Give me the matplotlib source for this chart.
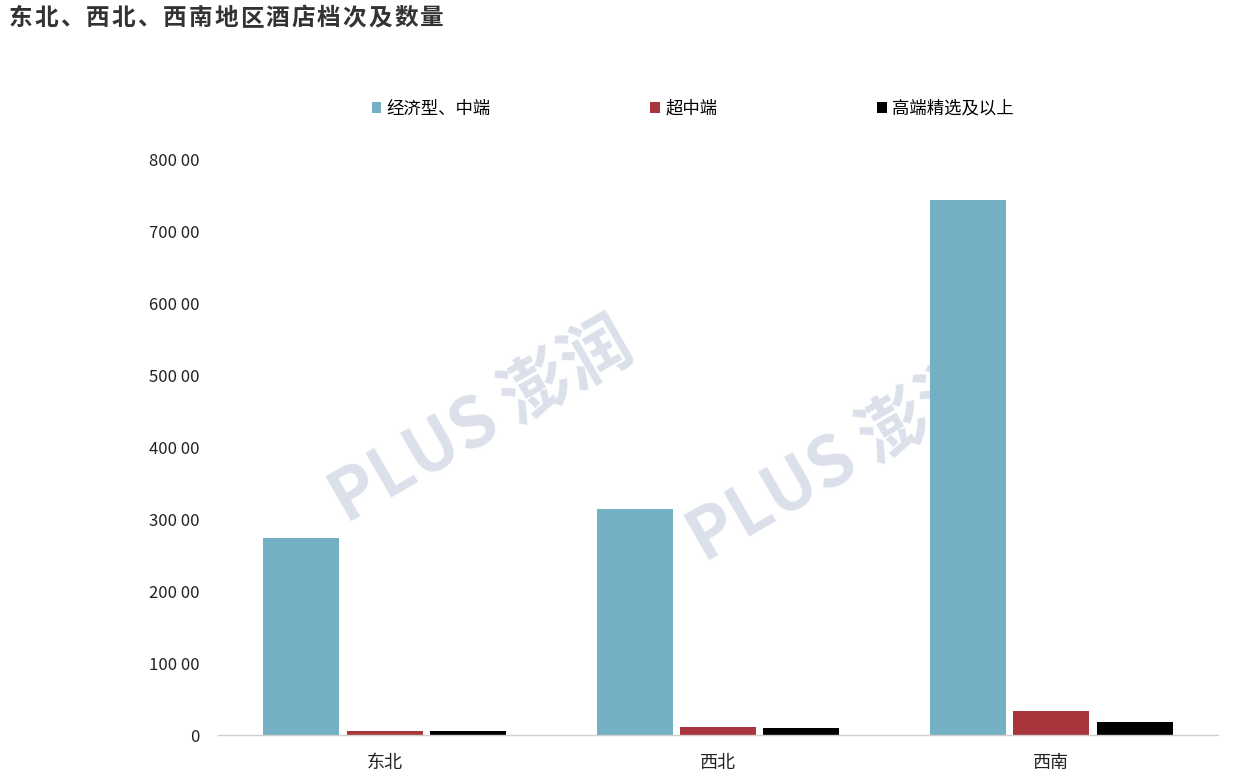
import matplotlib
matplotlib.use("Agg")
import matplotlib.pyplot as plt
import numpy as np

plt.rcParams["font.family"] = ["Noto Sans CJK SC", "DejaVu Sans"]

title = "东北、西北、西南地区酒店档次及数量"
regions = ["东北", "西北", "西南"]
series_names = ["经济型、中端", "超中端", "高端精选及以上"]
economy_mid = [27400, 31400, 74500]
upper_mid = [550, 1070, 3300]
upscale = [520, 930, 1770]
colors = ["#73B0C4", "#A8363C", "#000000"]
y_ticks = [0, 10000, 20000, 30000, 40000, 50000, 60000, 70000, 80000]
y_tick_labels = ["0", "100 00", "200 00", "300 00", "400 00", "500 00", "600 00", "700 00", "800 00"]

fig = plt.figure(figsize=(12.34, 7.82), dpi=100)
ax = fig.add_axes([0.1767, 0.0601, 0.8103, 0.7353])

x = np.arange(len(regions))
width = 0.228
offset = 0.25
for i, (vals, name) in enumerate(zip([economy_mid, upper_mid, upscale], series_names)):
    ax.bar(x + (i - 1) * offset, vals, width, color=colors[i], label=name, zorder=2)

ax.set_xlim(-0.5, 2.5)
ax.set_ylim(0, 80000)
ax.set_yticks(y_ticks)
ax.set_yticklabels(y_tick_labels)
ax.set_xticks(x)
ax.set_xticklabels(regions)
ax.tick_params(axis="y", length=0, labelsize=12, pad=13, colors="#222222")
ax.tick_params(axis="x", length=0, labelsize=13, pad=14, colors="#222222")
for side in ["top", "right", "left"]:
    ax.spines[side].set_visible(False)
ax.spines["bottom"].set_color("#D0D0D0")
ax.spines["bottom"].set_linewidth(1)

# watermark, sits under the bars
for wx, wy in [(0.39, 0.46), (0.68, 0.41)]:
    ax.text(wx, wy, "PLUS 澎润", fontsize=50, fontweight="bold", color="#C3CCDC",
            alpha=0.6, rotation=30, ha="center", va="center", zorder=1,
            transform=fig.transFigure)

ax.legend(loc="upper left", bbox_to_anchor=(0.138, 1.132), ncol=3, frameon=False,
          fontsize=12.5, handlelength=0.55, handleheight=0.6, handletextpad=0.3,
          columnspacing=9.2)

# title with wide letter spacing
step = 25.7 / 1234
for k, ch in enumerate(title):
    fig.text(0.007 + k * step, 0.977, ch, fontsize=17, fontweight="bold",
             color="#333333", ha="left", va="center")

fig.savefig("out.png", dpi=100)
